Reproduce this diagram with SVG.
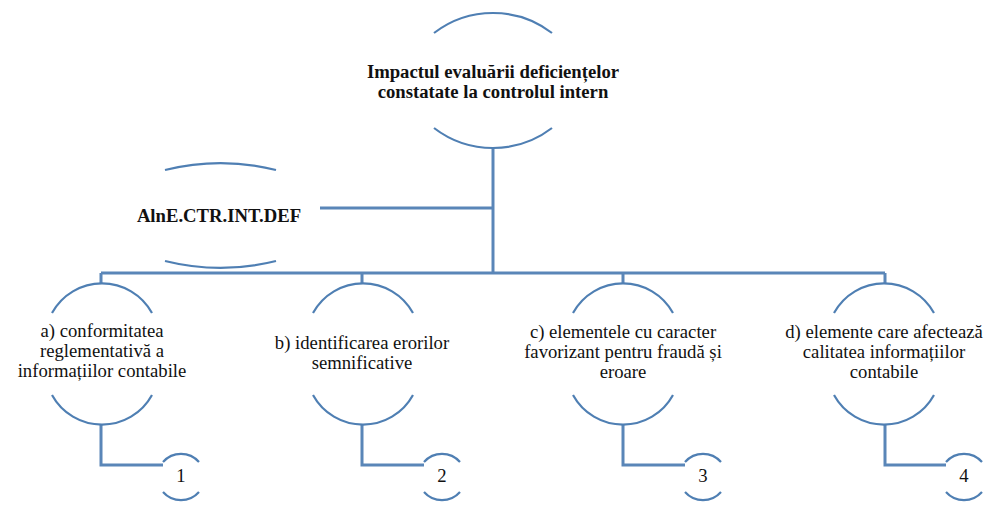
<svg xmlns="http://www.w3.org/2000/svg" width="996" height="510" viewBox="0 0 996 510">
  <rect width="996" height="510" fill="#fff"/>

  <!-- connectors: trunk, side branch, bus, drops and leaf elbows -->
  <g id="connectors" fill="none" stroke="#5a86b8" stroke-width="3">
    <path d="M493 148 V273"/>
    <path d="M320 208 H493"/>
    <path d="M101 273 H885"/>
    <path d="M101 273 V283 M362 273 V283 M623 273 V283 M885 273 V283"/>
    <path d="M101 424 V465 H163"/>
    <path d="M362 424 V465 H424"/>
    <path d="M623 424 V465 H685"/>
    <path d="M885 424 V465 H946"/>
  </g>

  <!-- root node -->
  <g id="root">
    <g fill="none" stroke="#4f7fb3" stroke-width="2.2">
      <path d="M434 33 A97 97 0 0 1 552 33"/>
      <path d="M434 128 A97 97 0 0 0 552 128"/>
    </g>
    <text x="493" y="78" font-family="Liberation Serif" font-size="18.7" font-weight="bold" text-anchor="middle" fill="#111">Impactul evaluării deficiențelor</text>
    <text x="493" y="98" font-family="Liberation Serif" font-size="18.7" font-weight="bold" text-anchor="middle" fill="#111">constatate la controlul intern</text>
  </g>

  <!-- side label node -->
  <g id="code">
    <g fill="none" stroke="#4f7fb3" stroke-width="2.2">
      <path d="M165 170 A230 230 0 0 1 276 170"/>
      <path d="M165 261 A230 230 0 0 0 276 261"/>
    </g>
    <text x="219" y="222" font-family="Liberation Serif" font-size="18.7" font-weight="bold" text-anchor="middle" fill="#111">AlnE.CTR.INT.DEF</text>
  </g>

  <!-- level two nodes -->
  <g id="node-a">
    <g fill="none" stroke="#4f7fb3" stroke-width="2.2">
      <path d="M52 313 A57 57 0 0 1 152 313"/>
      <path d="M52 395 A57 57 0 0 0 152 395"/>
    </g>
    <text x="102" y="337" font-family="Liberation Serif" font-size="18.7" text-anchor="middle" fill="#111">a) conformitatea</text>
    <text x="102" y="357" font-family="Liberation Serif" font-size="18.7" text-anchor="middle" fill="#111">reglementativă a</text>
    <text x="102" y="377" font-family="Liberation Serif" font-size="18.7" text-anchor="middle" fill="#111">informațiilor contabile</text>
  </g>
  <g id="node-b">
    <g fill="none" stroke="#4f7fb3" stroke-width="2.2">
      <path d="M313 313 A57 57 0 0 1 413 313"/>
      <path d="M313 395 A57 57 0 0 0 413 395"/>
    </g>
    <text x="362" y="349" font-family="Liberation Serif" font-size="18.7" text-anchor="middle" fill="#111">b) identificarea erorilor</text>
    <text x="362" y="369" font-family="Liberation Serif" font-size="18.7" text-anchor="middle" fill="#111">semnificative</text>
  </g>
  <g id="node-c">
    <g fill="none" stroke="#4f7fb3" stroke-width="2.2">
      <path d="M573 313 A57 57 0 0 1 673 313"/>
      <path d="M573 395 A57 57 0 0 0 673 395"/>
    </g>
    <text x="623" y="338" font-family="Liberation Serif" font-size="18.7" text-anchor="middle" fill="#111">c) elementele cu caracter</text>
    <text x="623" y="358" font-family="Liberation Serif" font-size="18.7" text-anchor="middle" fill="#111">favorizant pentru fraudă și</text>
    <text x="623" y="378" font-family="Liberation Serif" font-size="18.7" text-anchor="middle" fill="#111">eroare</text>
  </g>
  <g id="node-d">
    <g fill="none" stroke="#4f7fb3" stroke-width="2.2">
      <path d="M834 313 A57 57 0 0 1 934 313"/>
      <path d="M834 395 A57 57 0 0 0 934 395"/>
    </g>
    <text x="884" y="338" font-family="Liberation Serif" font-size="18.7" text-anchor="middle" fill="#111">d) elemente care afectează</text>
    <text x="884" y="358" font-family="Liberation Serif" font-size="18.7" text-anchor="middle" fill="#111">calitatea informațiilor</text>
    <text x="884" y="378" font-family="Liberation Serif" font-size="18.7" text-anchor="middle" fill="#111">contabile</text>
  </g>

  <!-- numbered leaf nodes -->
  <g id="leaf-1">
    <g fill="none" stroke="#4f7fb3" stroke-width="2.2">
      <path d="M163 462 A24 24 0 0 1 199 462"/>
      <path d="M163 492 A24 24 0 0 0 199 492"/>
    </g>
    <text x="181" y="482" font-family="Liberation Serif" font-size="18.7" text-anchor="middle" fill="#111">1</text>
  </g>
  <g id="leaf-2">
    <g fill="none" stroke="#4f7fb3" stroke-width="2.2">
      <path d="M424 462 A24 24 0 0 1 460 462"/>
      <path d="M424 492 A24 24 0 0 0 460 492"/>
    </g>
    <text x="442" y="482" font-family="Liberation Serif" font-size="18.7" text-anchor="middle" fill="#111">2</text>
  </g>
  <g id="leaf-3">
    <g fill="none" stroke="#4f7fb3" stroke-width="2.2">
      <path d="M685 462 A24 24 0 0 1 721 462"/>
      <path d="M685 492 A24 24 0 0 0 721 492"/>
    </g>
    <text x="703" y="482" font-family="Liberation Serif" font-size="18.7" text-anchor="middle" fill="#111">3</text>
  </g>
  <g id="leaf-4">
    <g fill="none" stroke="#4f7fb3" stroke-width="2.2">
      <path d="M946 462 A24 24 0 0 1 982 462"/>
      <path d="M946 492 A24 24 0 0 0 982 492"/>
    </g>
    <text x="964" y="482" font-family="Liberation Serif" font-size="18.7" text-anchor="middle" fill="#111">4</text>
  </g>
</svg>
